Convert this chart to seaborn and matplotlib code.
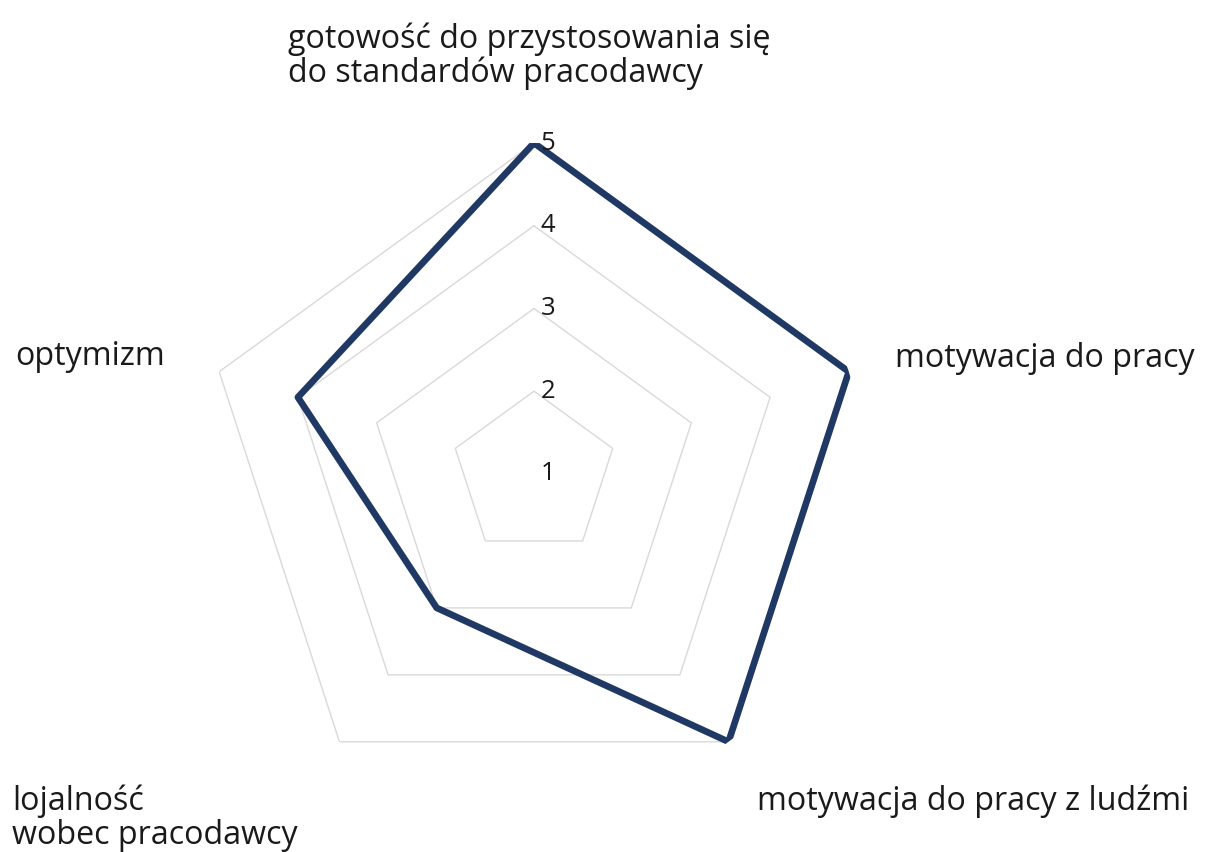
import numpy as np
import pandas as pd
import matplotlib.pyplot as plt
import seaborn as sns

# ---------------- data ----------------
categories = ["gotowość do przystosowania się\ndo standardów pracodawcy",
              "motywacja do pracy",
              "motywacja do pracy z ludźmi",
              "lojalność\nwobec pracodawcy",
              "optymizm"]
scores = [5, 5, 5, 3, 4]
rings = [1, 2, 3, 4, 5]

# where the category labels sit (left x, first baseline y) in pixels
label_pos = [(288, 48), (895, 367), (757, 810), (12, 810), (15, 365)]

sns.set_theme(style="white")
plt.rcParams['font.family'] = ['Open Sans', 'DejaVu Sans']

W, H = 1205, 852
fig = plt.figure(figsize=(W / 100, H / 100), dpi=100)
ax = fig.add_axes([203 / W, 47 / H, 662 / W, 662 / H], projection='polar')
ax.set_theta_zero_location('N')
ax.set_theta_direction(-1)

n = len(categories)
angles = np.linspace(0, 2 * np.pi, n, endpoint=False)
closed = np.append(angles, angles[0])

# pentagon grid
for r in rings[1:]:
    ax.plot(closed, [r] * (n + 1), color='#d9d9d9', lw=1.0, zorder=1)

df = pd.DataFrame({'theta': closed, 'score': scores + scores[:1]})
sns.lineplot(data=df, x='theta', y='score', sort=False, estimator=None,
             color='#1f3864', lw=4.8, ax=ax, zorder=3)

ax.set_ylim(rings[0], rings[-1])
ax.grid(False)
ax.spines['polar'].set_visible(False)
ax.set_xticks([])
ax.set_yticks([])
ax.set_xlabel('')
ax.set_ylabel('')

for r in rings:
    ax.annotate(str(r), xy=(0, r), xytext=(10, 0), textcoords='offset points',
                ha='center', va='center', fontsize=18.5, color='#1a1a1a', zorder=4)

for text, (x, y) in zip(categories, label_pos):
    for i, line in enumerate(text.split('\n')):
        fig.text(x / W, 1 - (y + 34 * i) / H, line, ha='left', va='baseline',
                 fontsize=23.2, color='#1a1a1a')

fig.savefig('out.png', dpi=100)
